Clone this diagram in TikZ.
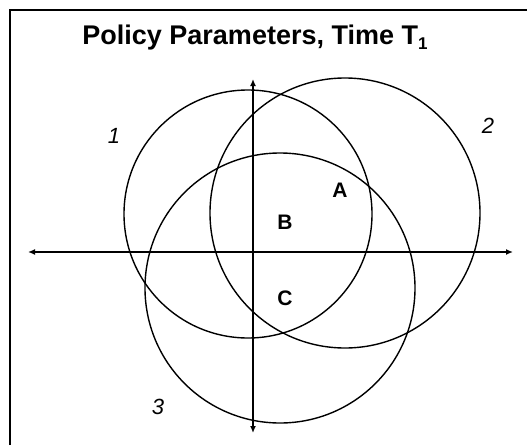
\documentclass[tikz,border=0pt]{standalone}
\usepackage{fontspec}
\setmainfont{Liberation Sans}
\usepackage{tikz}
\usetikzlibrary{arrows.meta}

\begin{document}
\begin{tikzpicture}[x=1pt, y=-1pt, font=\bfseries]
\tikzset{
  cercle/.style={line width=1.4pt},
  axe/.style={line width=2.8pt, {Latex[length=7pt,width=6pt]}-{Latex[length=7pt,width=6pt]}},
  lettre/.style={font=\fontsize{21}{24}\selectfont\bfseries},
  numero/.style={font=\fontsize{22}{26}\selectfont\itshape}
}
\useasboundingbox (0,0) rectangle (527,445);

\draw[line width=2pt] (10,445) -- (10,10) -- (527,10);
\node[font=\fontsize{27}{32}\selectfont\bfseries] (titre) at (255,38)
  {Policy Parameters, Time T\raisebox{-0.35ex}{\fontsize{17}{19}\selectfont 1}};

\draw[cercle] (248,214) circle[radius=124pt];
\draw[cercle] (345,213) circle[radius=135pt];
\draw[cercle] (280,288) circle[radius=135pt];

\coordinate (gauche) at (28,252);
\coordinate (droite) at (513,252);
\coordinate (haut) at (253,79);
\coordinate (bas) at (253,433);
\draw[axe] (gauche) -- (droite);
\draw[axe] (bas) -- (haut);

\node[lettre] (zoneA) at (340,190) {A};
\node[lettre] (zoneB) at (285,222) {B};
\node[lettre] (zoneC) at (285,298) {C};

\node[numero] (un) at (114,136) {1};
\node[numero] (deux) at (488,126) {2};
\node[numero] (trois) at (158,407) {3};

\end{tikzpicture}
\end{document}
